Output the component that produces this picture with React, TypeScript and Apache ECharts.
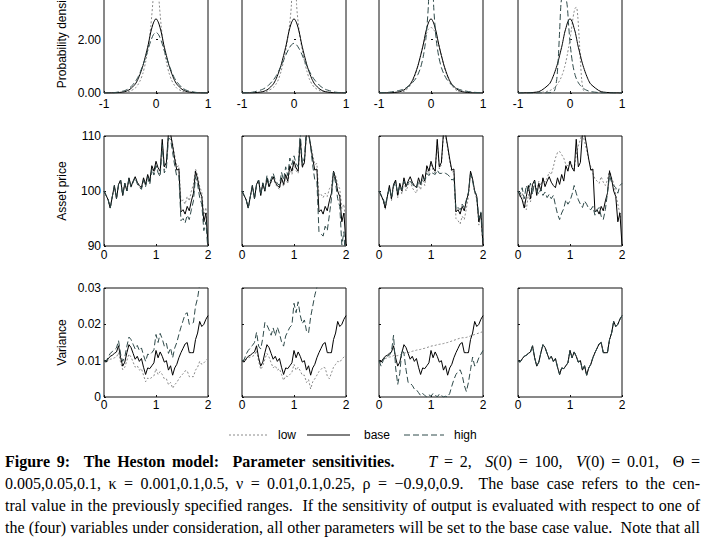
import React, { useEffect, useRef } from 'react';
import * as echarts from 'echarts';

// ---------- DATA ----------
const T_GRID = [0, 0.04, 0.08, 0.12, 0.16, 0.2, 0.24, 0.28, 0.32, 0.36, 0.4, 0.44, 0.48, 0.52, 0.56, 0.6, 0.64, 0.68, 0.72, 0.76, 0.8, 0.84, 0.88, 0.92, 0.96, 1, 1.04, 1.08, 1.12, 1.16, 1.2, 1.24, 1.28, 1.32, 1.36, 1.4, 1.44, 1.48, 1.52, 1.56, 1.6, 1.64, 1.68, 1.72, 1.76, 1.8, 1.84, 1.88, 1.92, 1.96, 2];

const DENS_X = [-1, -0.8, -0.6, -0.5, -0.4, -0.35, -0.3, -0.25, -0.2, -0.15, -0.1, -0.05, 0, 0.05, 0.1, 0.15, 0.2, 0.25, 0.3, 0.35, 0.4, 0.5, 0.6, 0.8, 1];
const DENS_BASE = [0, 0.005, 0.05, 0.14, 0.33, 0.5, 0.74, 1.03, 1.4, 1.8, 2.28, 2.62, 2.78, 2.62, 2.28, 1.8, 1.4, 1.03, 0.74, 0.5, 0.33, 0.14, 0.05, 0.005, 0];
const DENS_THETA_LOW = [0, 0.003, 0.025, 0.07, 0.18, 0.3, 0.48, 0.75, 1.15, 1.7, 2.5, 3.7, 6.0, 3.7, 2.5, 1.7, 1.15, 0.75, 0.48, 0.3, 0.18, 0.07, 0.025, 0.003, 0];
const DENS_THETA_HIGH = [0, 0.015, 0.09, 0.2, 0.42, 0.58, 0.8, 1.05, 1.33, 1.65, 1.95, 2.18, 2.27, 2.18, 1.95, 1.65, 1.33, 1.05, 0.8, 0.58, 0.42, 0.2, 0.09, 0.015, 0];
const DENS_KAPPA_LOW = [0, 0.003, 0.03, 0.08, 0.2, 0.32, 0.5, 0.8, 1.2, 1.7, 2.3, 3.3, 6.5, 3.3, 2.3, 1.7, 1.2, 0.8, 0.5, 0.32, 0.2, 0.08, 0.03, 0.003, 0];
const DENS_KAPPA_HIGH = [0.005, 0.03, 0.14, 0.27, 0.48, 0.62, 0.8, 1.0, 1.22, 1.45, 1.65, 1.8, 1.86, 1.8, 1.65, 1.45, 1.22, 1.0, 0.8, 0.62, 0.48, 0.27, 0.14, 0.03, 0.005];
const DENS_NU_LOW = [0, 0, 0.02, 0.08, 0.27, 0.45, 0.7, 1.02, 1.4, 1.8, 2.15, 2.38, 2.45, 2.38, 2.15, 1.8, 1.4, 1.02, 0.7, 0.45, 0.27, 0.08, 0.02, 0, 0];
const DENS_NU_HIGH = [0.01, 0.03, 0.1, 0.17, 0.3, 0.4, 0.52, 0.7, 0.95, 1.35, 2.0, 3.3, 6.5, 3.3, 2.0, 1.35, 0.95, 0.7, 0.52, 0.4, 0.3, 0.17, 0.1, 0.03, 0.01];

const RHO_X = [-1, -0.6, -0.4, -0.35, -0.3, -0.275, -0.25, -0.225, -0.2, -0.175, -0.15, -0.125, -0.1, -0.075, -0.05, -0.025, 0, 0.025, 0.05, 0.075, 0.1, 0.125, 0.15, 0.175, 0.2, 0.225, 0.25, 0.275, 0.3, 0.35, 0.4, 0.6, 1];
const DENS_RHO_BASE = [0, 0.05, 0.33, 0.5, 0.74, 0.88, 1.03, 1.2, 1.4, 1.6, 1.8, 2.05, 2.28, 2.45, 2.62, 2.73, 2.78, 2.73, 2.62, 2.45, 2.28, 2.05, 1.8, 1.6, 1.4, 1.2, 1.03, 0.88, 0.74, 0.5, 0.33, 0.05, 0];
const DENS_RHO_LOW = [0, 0.01, 0.08, 0.13, 0.2, 0.25, 0.31, 0.38, 0.46, 0.56, 0.68, 0.82, 1.0, 1.2, 1.45, 1.72, 2.0, 2.35, 2.7, 3.0, 3.18, 3.2, 2.85, 2.1, 1.2, 0.5, 0.15, 0.04, 0.01, 0, 0, 0, 0];
const DENS_RHO_HIGH = [0, 0, 0.01, 0.03, 0.08, 0.25, 0.6, 1.3, 2.3, 3.3, 3.7, 3.9, 3.8, 3.55, 3.2, 2.5, 1.9, 1.45, 1.1, 0.85, 0.66, 0.52, 0.42, 0.34, 0.28, 0.23, 0.19, 0.15, 0.12, 0.08, 0.05, 0.01, 0];

const PRICE_BASE = [100.0, 99.2, 98.4, 96.9, 99.0, 101.0, 98.6, 101.2, 102.0, 99.2,
  101.4, 100.0, 102.4, 100.8, 101.8, 102.6, 101.6, 101.0, 100.6, 102.4,
  101.2, 103.0, 101.8, 104.6, 103.6, 105.4, 104.2, 103.6, 109.4, 104.4,
  105.2, 110.6, 110.4, 108.2, 105.8, 103.8, 104.0, 96.2, 96.6, 95.8,
  97.2, 96.4, 98.2, 99.6, 103.6, 102.2, 100.0, 99.0, 94.4, 96.0, 90.2];
const PRICE_THETA_HIGH = [100.0, 99.2, 98.4, 96.9, 99.0, 101.0, 98.6, 101.2, 102.0, 99.2,
  101.4, 100.0, 102.3, 100.7, 101.6, 102.4, 101.3, 100.7, 100.3, 102.0,
  100.8, 102.5, 101.2, 104.0, 102.9, 104.6, 103.3, 102.6, 108.4, 103.3,
  104.1, 109.6, 109.4, 107.0, 104.6, 102.6, 102.8, 94.6, 95.0, 94.2,
  95.6, 94.8, 96.6, 98.2, 102.6, 101.2, 98.8, 97.6, 92.8, 94.4, 89.0];
const PRICE_THETA_LOW = [100.0, 99.2, 98.4, 96.9, 99.0, 101.0, 98.6, 101.2, 102.0, 99.2,
  101.4, 100.0, 102.3, 100.7, 101.6, 102.4, 101.4, 100.8, 100.4, 102.1,
  100.9, 102.6, 101.4, 104.2, 103.1, 104.8, 103.6, 103.0, 108.8, 103.8,
  104.6, 110.2, 110.2, 108.6, 106.4, 104.4, 104.6, 98.0, 98.4, 97.6,
  99.0, 98.2, 100.0, 101.2, 104.0, 102.8, 100.8, 99.8, 95.6, 97.0, 91.6];
const PRICE_KAPPA_HIGH = [100.0, 99.2, 98.4, 96.9, 99.0, 101.0, 98.6, 101.2, 102.0, 99.3,
  101.5, 100.2, 102.8, 101.2, 102.2, 103.2, 102.0, 101.4, 101.0, 103.4,
  102.0, 104.4, 102.8, 106.0, 104.8, 106.4, 105.0, 104.4, 110.6, 105.0,
  106.0, 111.6, 111.0, 108.0, 104.6, 102.0, 101.8, 92.6, 92.2, 91.8,
  93.6, 92.8, 95.6, 98.6, 103.4, 101.4, 98.6, 97.2, 90.2, 92.6, 85.0];
const PRICE_KAPPA_LOW = [100.0, 99.2, 98.4, 96.9, 99.0, 101.0, 98.6, 101.2, 102.0, 99.2,
  101.3, 99.9, 102.2, 100.6, 101.5, 102.3, 101.3, 100.7, 100.3, 102.0,
  100.8, 102.5, 101.3, 104.0, 103.0, 104.8, 103.7, 103.2, 108.8, 104.2,
  105.0, 110.2, 110.4, 108.6, 106.6, 104.8, 105.0, 99.2, 99.4, 98.8,
  99.6, 99.0, 100.4, 101.0, 103.6, 102.8, 101.2, 100.4, 96.8, 97.6, 93.2];
const PRICE_NU_HIGH = [100.0, 99.3, 98.6, 97.4, 99.0, 100.6, 98.8, 100.8, 101.6, 99.6,
  101.0, 100.2, 101.8, 100.8, 101.4, 102.0, 101.2, 100.8, 100.6, 101.8,
  101.2, 102.4, 102.0, 103.2, 102.8, 103.4, 103.2, 103.0, 103.8, 103.2,
  103.2, 103.4, 103.2, 103.0, 102.6, 102.0, 102.2, 96.6, 97.0, 96.6,
  97.6, 97.0, 98.4, 99.8, 103.0, 101.8, 100.0, 99.2, 95.0, 96.2, 91.0];
const PRICE_NU_LOW = [100.0, 99.1, 98.2, 96.6, 98.8, 101.0, 98.2, 101.0, 101.8, 98.8,
  101.0, 99.4, 101.8, 100.0, 101.0, 101.8, 100.6, 100.0, 99.6, 101.4,
  100.2, 102.2, 101.0, 104.0, 103.0, 105.0, 103.8, 103.2, 109.0, 104.0,
  104.8, 110.2, 110.0, 107.8, 105.4, 103.4, 103.6, 95.0, 94.6, 94.0,
  95.4, 94.8, 96.8, 99.0, 103.4, 101.8, 99.6, 98.6, 93.8, 95.4, 89.8];
const PRICE_RHO_HIGH = [100.0, 99.4, 100.6, 98.6, 101.0, 100.0, 101.4, 99.4, 101.8, 100.2,
  99.4, 100.4, 99.2, 99.8, 98.8, 99.4, 98.6, 99.2, 97.4, 95.8,
  94.8, 96.0, 96.8, 98.4, 97.6, 98.2, 99.4, 101.0, 99.6, 98.4,
  97.6, 97.0, 98.2, 97.6, 96.8, 96.6, 97.2, 95.6, 96.6, 97.0,
  95.4, 94.8, 96.6, 99.6, 102.8, 101.6, 101.0, 100.6, 99.6, 101.0, 101.4];
const PRICE_RHO_LOW = [100.0, 98.8, 99.6, 97.8, 96.6, 99.4, 98.0, 100.4, 101.0, 100.0,
  101.8, 101.0, 102.2, 101.6, 102.4, 103.4, 103.0, 104.4, 106.0, 107.0,
  107.2, 106.6, 106.0, 104.8, 104.6, 105.6, 104.6, 104.0, 106.6, 108.2,
  109.4, 110.6, 109.0, 107.4, 105.6, 104.4, 103.2, 102.2, 101.8, 101.4,
  102.6, 101.6, 101.0, 102.0, 103.8, 102.4, 101.4, 99.4, 97.6, 95.8, 94.0];

const VAR_BASE = [0.0100, 0.0096, 0.0105, 0.0112, 0.0115, 0.0120, 0.0124, 0.0141, 0.0108, 0.0085,
  0.0096, 0.0122, 0.0144, 0.0136, 0.0120, 0.0104, 0.0112, 0.0098, 0.0106, 0.0082,
  0.0062, 0.0080, 0.0078, 0.0086, 0.0094, 0.0128, 0.0108, 0.0124, 0.0112, 0.0096,
  0.0100, 0.0074, 0.0086, 0.0060, 0.0080, 0.0090, 0.0108, 0.0122, 0.0134, 0.0146,
  0.0150, 0.0122, 0.0122, 0.0122, 0.0158, 0.0176, 0.0208, 0.0194, 0.0200, 0.0214, 0.0224];
const VAR_THETA_HIGH = [0.0100, 0.0098, 0.0110, 0.0120, 0.0125, 0.0130, 0.0135, 0.0155, 0.0118, 0.0098,
  0.0110, 0.0140, 0.0165, 0.0158, 0.0145, 0.0132, 0.0142, 0.0128, 0.0135, 0.0115,
  0.0098, 0.0118, 0.0116, 0.0122, 0.0130, 0.0172, 0.0150, 0.0175, 0.0160, 0.0140,
  0.0148, 0.0120, 0.0135, 0.0108, 0.0135, 0.0150, 0.0172, 0.0192, 0.0210, 0.0228,
  0.0232, 0.0200, 0.0202, 0.0205, 0.0250, 0.0272, 0.0310, 0.0300, 0.0310, 0.0330, 0.0345];
const VAR_THETA_LOW = [0.0100, 0.0094, 0.0100, 0.0104, 0.0105, 0.0108, 0.0110, 0.0122, 0.0095, 0.0075,
  0.0082, 0.0100, 0.0118, 0.0110, 0.0096, 0.0082, 0.0086, 0.0074, 0.0078, 0.0060,
  0.0042, 0.0052, 0.0050, 0.0054, 0.0058, 0.0078, 0.0062, 0.0070, 0.0062, 0.0050,
  0.0050, 0.0034, 0.0040, 0.0024, 0.0034, 0.0040, 0.0050, 0.0058, 0.0064, 0.0072,
  0.0072, 0.0056, 0.0056, 0.0056, 0.0074, 0.0082, 0.0098, 0.0090, 0.0094, 0.0100, 0.0106];
const VAR_KAPPA_HIGH = [0.0100, 0.0102, 0.0118, 0.0128, 0.0135, 0.0142, 0.0150, 0.0178, 0.0140, 0.0132,
  0.0162, 0.0205, 0.0198, 0.0185, 0.0170, 0.0190, 0.0168, 0.0192, 0.0175, 0.0152,
  0.0140, 0.0168, 0.0180, 0.0192, 0.0198, 0.0258, 0.0232, 0.0262, 0.0225, 0.0202,
  0.0212, 0.0182, 0.0176, 0.0220, 0.0250, 0.0280, 0.0302, 0.0320, 0.0340, 0.0355,
  0.0360, 0.0340, 0.0345, 0.0350, 0.0380, 0.0395, 0.0420, 0.0410, 0.0415, 0.0430, 0.0440];
const VAR_KAPPA_LOW = [0.0100, 0.0098, 0.0104, 0.0108, 0.0110, 0.0112, 0.0115, 0.0128, 0.0098, 0.0076,
  0.0085, 0.0104, 0.0120, 0.0110, 0.0094, 0.0080, 0.0086, 0.0074, 0.0078, 0.0062,
  0.0046, 0.0058, 0.0056, 0.0062, 0.0068, 0.0090, 0.0074, 0.0082, 0.0072, 0.0060,
  0.0060, 0.0040, 0.0048, 0.0022, 0.0042, 0.0050, 0.0060, 0.0070, 0.0076, 0.0082,
  0.0080, 0.0058, 0.0050, 0.0066, 0.0082, 0.0090, 0.0098, 0.0096, 0.0104, 0.0110, 0.0116];
const VAR_NU_HIGH = [0.0100, 0.0085, 0.0100, 0.0110, 0.0112, 0.0115, 0.0125, 0.0170, 0.0080, 0.0035,
  0.0065, 0.0130, 0.0120, 0.0075, 0.0040, 0.0038, 0.0032, 0.0022, 0.0020, 0.0012,
  0.0004, 0.0010, 0.0004, 0.0000, 0.0006, 0.0002, 0.0010, 0.0006, 0.0000, 0.0008,
  0.0004, 0.0000, 0.0002, 0.0000, 0.0010, 0.0030, 0.0048, 0.0062, 0.0070, 0.0075,
  0.0060, 0.0032, 0.0015, 0.0040, 0.0075, 0.0110, 0.0085, 0.0092, 0.0108, 0.0118, 0.0128];
const VAR_NU_LOW = [0.0100, 0.0096, 0.0104, 0.0106, 0.0108, 0.0110, 0.0111, 0.0114, 0.0113, 0.0114,
  0.0116, 0.0118, 0.0121, 0.0122, 0.0122, 0.0124, 0.0126, 0.0127, 0.0129, 0.0130,
  0.0131, 0.0133, 0.0134, 0.0136, 0.0138, 0.0140, 0.0141, 0.0142, 0.0144, 0.0145,
  0.0146, 0.0147, 0.0149, 0.0150, 0.0152, 0.0154, 0.0156, 0.0158, 0.0160, 0.0162,
  0.0163, 0.0163, 0.0164, 0.0166, 0.0168, 0.0170, 0.0172, 0.0174, 0.0176, 0.0178, 0.0180];

const Y_NAMES = ['Probability density', 'Asset price', 'Variance'];
const LEGEND_LABELS = ['low', 'base', 'high'];
const CAPTION_LINES = [
  '*Figure 9:  The Heston model:  Parameter sensitivities.*     _T_ = 2,  _S_(0) = 100,  _V_(0) = 0.01,  Θ =',
  '0.005,0.05,0.1, κ = 0.001,0.1,0.5, ν = 0.01,0.1,0.25, ρ = −0.9,0,0.9.  The base case refers to the cen-',
  'tral value in the previously specified ranges.  If the sensitivity of output is evaluated with respect to one of',
  'the (four) variables under consideration, all other parameters will be set to the base case value.  Note that all',
];

// ---------- LAYOUT / STYLE ----------
// The chart canvas is shifted up by OFF px so the top row's upper part is cut off, as in the reference.
const OFF = 20;
const COL_LEFT = [104, 242, 379, 518];
const COL_W = 104;
const ROWS = [
  { top: -14 + OFF, h: 107, xmin: -1, xmax: 1, ymin: 0, ymax: 4, yint: 2, xMargin: 5 },
  { top: 136 + OFF, h: 110, xmin: 0, xmax: 2, ymin: 90, ymax: 110, yint: 10, xMargin: 3 },
  { top: 288 + OFF, h: 109, xmin: 0, xmax: 2, ymin: 0, ymax: 0.03, yint: 0.01, xMargin: 2 },
];
const SANS = 'Liberation Sans';
const SERIF = 'Liberation Serif';
const LOW_LINE = { color: '#8a8a8a', width: 1, type: [2, 2] as number[] };
const BASE_LINE = { color: '#000000', width: 1, type: 'solid' as const };
const HIGH_LINE = { color: '#2f4a4a', width: 1, type: [6, 3] as number[] };

type Panel = { xs: number[]; low: number[]; base: number[]; high: number[] };
const PANELS: Panel[][] = [
  [
    { xs: DENS_X, low: DENS_THETA_LOW, base: DENS_BASE, high: DENS_THETA_HIGH },
    { xs: DENS_X, low: DENS_KAPPA_LOW, base: DENS_BASE, high: DENS_KAPPA_HIGH },
    { xs: DENS_X, low: DENS_NU_LOW, base: DENS_BASE, high: DENS_NU_HIGH },
    { xs: RHO_X, low: DENS_RHO_LOW, base: DENS_RHO_BASE, high: DENS_RHO_HIGH },
  ],
  [
    { xs: T_GRID, low: PRICE_THETA_LOW, base: PRICE_BASE, high: PRICE_THETA_HIGH },
    { xs: T_GRID, low: PRICE_KAPPA_LOW, base: PRICE_BASE, high: PRICE_KAPPA_HIGH },
    { xs: T_GRID, low: PRICE_NU_LOW, base: PRICE_BASE, high: PRICE_NU_HIGH },
    { xs: T_GRID, low: PRICE_RHO_LOW, base: PRICE_BASE, high: PRICE_RHO_HIGH },
  ],
  [
    { xs: T_GRID, low: VAR_THETA_LOW, base: VAR_BASE, high: VAR_THETA_HIGH },
    { xs: T_GRID, low: VAR_KAPPA_LOW, base: VAR_BASE, high: VAR_KAPPA_HIGH },
    { xs: T_GRID, low: VAR_NU_LOW, base: VAR_BASE, high: VAR_NU_HIGH },
    { xs: T_GRID, low: VAR_BASE, base: VAR_BASE, high: VAR_BASE },
  ],
];

function yFormatter(row: number) {
  return (v: number) => {
    if (row === 0) return v > 3 ? '' : v.toFixed(2); // top tick lies outside the picture
    if (row === 1) return String(Math.round(v));
    return Math.abs(v) < 1e-9 ? '0' : v.toFixed(2);
  };
}

function buildCaption(): any[] {
  const left = 5;
  const right = 700;
  const mids = [461 + OFF, 483 + OFF, 505 + OFF, 527 + OFF];
  const ctx = document.createElement('canvas').getContext('2d') as CanvasRenderingContext2D;
  const fontOf = (b: boolean, i: boolean, s: number) => `${i ? 'italic ' : ''}${b ? 'bold ' : ''}${s}px "${SERIF}"`;
  type Seg = { t: string; b: boolean; i: boolean };
  const parsed = CAPTION_LINES.map(line => {
    const words: Seg[][] = [];
    const gaps: number[] = [];
    let bold = false, ital = false;
    let cur: Seg[] = [];
    let spaces = 0;
    for (const ch of line) {
      if (ch === '*') { bold = !bold; continue; }
      if (ch === '_') { ital = !ital; continue; }
      if (ch === ' ') {
        if (cur.length) { words.push(cur); cur = []; }
        spaces++;
        continue;
      }
      if (spaces > 0 && words.length) gaps.push(spaces);
      spaces = 0;
      const last = cur[cur.length - 1];
      if (last && last.b === bold && last.i === ital) last.t += ch;
      else cur.push({ t: ch, b: bold, i: ital });
    }
    if (cur.length) words.push(cur);
    return { words, gaps };
  });
  const refSize = 14;
  ctx.font = fontOf(false, false, refSize);
  const spaceW = ctx.measureText(' ').width;
  let maxW = 0;
  parsed.slice(1).forEach(p => {
    let w = 0;
    p.words.forEach(ws => ws.forEach(seg => { ctx.font = fontOf(seg.b, seg.i, refSize); w += ctx.measureText(seg.t).width; }));
    w += p.gaps.length * spaceW;
    maxW = Math.max(maxW, w);
  });
  const size = Math.min(16, Math.round(refSize * (right - left) / maxW * 10) / 10);
  const out: any[] = [];
  parsed.forEach((p, li) => {
    const widths = p.words.map(w => w.reduce((s, seg) => { ctx.font = fontOf(seg.b, seg.i, size); return s + ctx.measureText(seg.t).width; }, 0));
    const total = widths.reduce((a, b) => a + b, 0);
    const wsum = p.gaps.reduce((a, b) => a + b, 0);
    const unit = wsum > 0 ? (right - left - total) / wsum : 0;
    let x = left;
    p.words.forEach((w, wi) => {
      let sx = x;
      w.forEach(seg => {
        ctx.font = fontOf(seg.b, seg.i, size);
        out.push({
          type: 'text', x: sx, y: mids[li], silent: true,
          style: {
            text: seg.t, fill: '#000', fontSize: size, fontFamily: SERIF,
            fontWeight: seg.b ? 'bold' : 'normal', fontStyle: seg.i ? 'italic' : 'normal',
            align: 'left', verticalAlign: 'middle',
          },
        });
        sx += ctx.measureText(seg.t).width;
      });
      x += widths[wi] + (wi < p.gaps.length ? p.gaps[wi] * unit : 0);
    });
  });
  return out;
}

function buildOption() {
  const grid: any[] = [], xAxis: any[] = [], yAxis: any[] = [], series: any[] = [];
  ROWS.forEach((r, ri) => {
    COL_LEFT.forEach((cl, ci) => {
      const idx = ri * 4 + ci;
      grid.push({ left: cl, top: r.top, width: COL_W, height: r.h, show: true, borderColor: '#111', borderWidth: 1, backgroundColor: 'transparent', containLabel: false });
      xAxis.push({
        type: 'value', gridIndex: idx, min: r.xmin, max: r.xmax, interval: 1,
        axisLine: { show: false }, splitLine: { show: false },
        axisTick: { show: true, inside: true, length: 2, lineStyle: { color: '#111' } },
        axisLabel: { show: true, color: '#000', fontSize: 12, fontFamily: SANS, margin: r.xMargin, showMinLabel: true, showMaxLabel: true },
      });
      yAxis.push({
        type: 'value', gridIndex: idx, min: r.ymin, max: r.ymax, interval: r.yint,
        axisLine: { show: false }, splitLine: { show: false },
        axisTick: { show: true, inside: true, length: 2, lineStyle: { color: '#111' } },
        axisLabel: { show: ci === 0, color: '#000', fontSize: 12, fontFamily: SANS, margin: 3, formatter: yFormatter(ri), showMinLabel: true, showMaxLabel: true },
      });
      const p = PANELS[ri][ci];
      const mk = (name: string, ys: number[], ls: any) => ({
        type: 'line', name, xAxisIndex: idx, yAxisIndex: idx,
        data: p.xs.map((x, k) => [x, ys[k]]),
        showSymbol: false, symbol: 'none', clip: true,
        smooth: ri === 0 ? 0.25 : false,
        lineStyle: ls, silent: true,
      });
      series.push(mk('low', p.low, LOW_LINE));
      series.push(mk('base', p.base, BASE_LINE));
      series.push(mk('high', p.high, HIGH_LINE));
    });
  });

  const graphic: any[] = [];
  ROWS.forEach((r, ri) => {
    graphic.push({
      type: 'text', x: 62, y: r.top + r.h / 2, rotation: Math.PI / 2, silent: true,
      style: { text: Y_NAMES[ri], fill: '#000', fontSize: 12, fontFamily: SANS, align: 'center', verticalAlign: 'middle' },
    });
  });
  const legY = 435 + OFF;
  const legItems = [
    { x1: 229, x2: 267, tx: 278, ls: LOW_LINE },
    { x1: 307, x2: 350, tx: 364, ls: BASE_LINE },
    { x1: 404, x2: 444, tx: 454, ls: HIGH_LINE },
  ];
  legItems.forEach((it, i) => {
    graphic.push({
      type: 'line', silent: true,
      shape: { x1: it.x1, y1: legY, x2: it.x2, y2: legY },
      style: { stroke: it.ls.color, lineWidth: 1, lineDash: Array.isArray(it.ls.type) ? it.ls.type : null },
    });
    graphic.push({
      type: 'text', x: it.tx, y: legY - 0.5, silent: true,
      style: { text: LEGEND_LABELS[i], fill: '#000', fontSize: 12, fontFamily: SANS, align: 'left', verticalAlign: 'middle' },
    });
  });
  graphic.push(...buildCaption());

  return {
    animation: false,
    backgroundColor: '#ffffff',
    textStyle: { fontFamily: SANS },
    grid, xAxis, yAxis, series, graphic,
  };
}

export default function App() {
  const ref = useRef<HTMLDivElement>(null);
  useEffect(() => {
    if (!ref.current) return;
    const chart = echarts.init(ref.current, undefined, { renderer: 'svg' });
    chart.setOption(buildOption() as any);
    return () => { chart.dispose(); };
  }, []);
  return <div ref={ref} style={{ position: 'absolute', left: 0, top: -OFF, width: 714, height: 540 + OFF }} />;
}
